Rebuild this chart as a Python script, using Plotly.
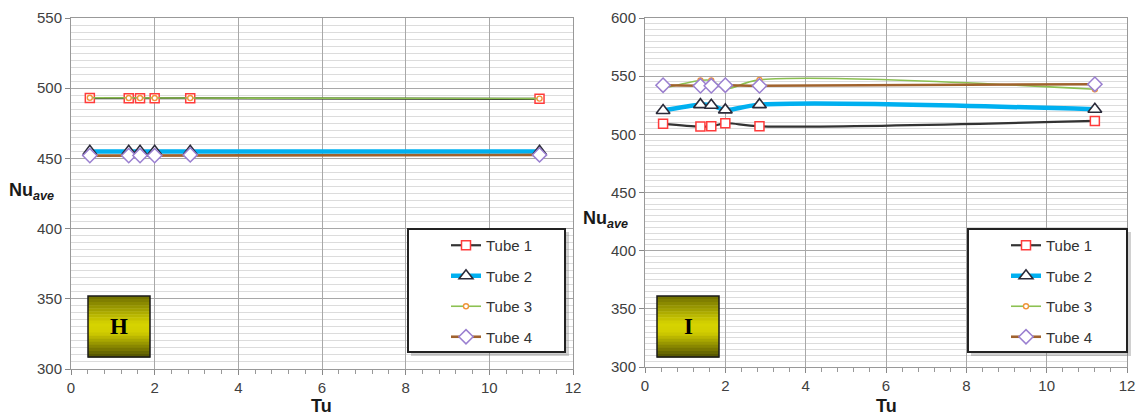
import plotly.graph_objects as go

W, H = 1138, 418

# ---------------- data ----------------
tu = [0.45, 1.38, 1.65, 2.0, 2.85, 11.2]
series_names = ["Tube 1", "Tube 2", "Tube 3", "Tube 4"]

h_tube1 = [493.0, 492.8, 492.8, 492.8, 492.9, 492.4]
h_tube2 = [455.0, 455.0, 455.0, 455.0, 455.0, 455.0]
h_tube3 = [493.2, 493.0, 493.0, 493.0, 493.0, 492.6]
h_tube4 = [452.0, 452.0, 452.0, 452.0, 452.5, 452.5]

i_tube1 = [509.0, 506.7, 506.9, 509.5, 506.9, 511.5]
i_tube2 = [520.5, 525.5, 525.0, 521.0, 525.5, 521.5]
i_tube3 = [539.4, 546.3, 546.3, 539.4, 546.8, 538.8]
i_tube4 = [542.2, 541.7, 541.7, 542.2, 541.7, 543.1]

x_ticks = [0, 2, 4, 6, 8, 10, 12]
h_yticks = [300, 350, 400, 450, 500, 550]
i_yticks = [300, 350, 400, 450, 500, 550, 600]
panel_labels = ["H", "I"]

# ---------------- styles ----------------
styles = [
    dict(line=dict(color="#333333", width=2.2),
         marker=dict(symbol="square", size=9, color="white",
                     line=dict(width=1.5, color="#ff3b3b"))),
    dict(line=dict(color="#00b0f0", width=4.5),
         marker=dict(symbol="triangle-up", size=12, color="white",
                     line=dict(width=1.6, color="#2b2b3a"))),
    dict(line=dict(color="#8cc152", width=1.6),
         marker=dict(symbol="circle", size=5, color="white",
                     line=dict(width=1.4, color="#f0953a"))),
    dict(line=dict(color="#a0622d", width=2.6),
         marker=dict(symbol="diamond", size=11, color="white",
                     line=dict(width=1.5, color="#9a7fd0"))),
]

fig = go.Figure()

def px_x(p):
    return p / W

def px_y(p):
    return 1 - p / H

panels = [
    dict(data=[h_tube1, h_tube2, h_tube3, h_tube4], xa="x", ya="y", legend="legend",
         shape="linear"),
    dict(data=[i_tube1, i_tube2, i_tube3, i_tube4], xa="x2", ya="y2", legend="legend2",
         shape="spline"),
]

for p in panels:
    for k, vals in enumerate(p["data"]):
        st = styles[k]
        fig.add_trace(go.Scatter(
            x=tu, y=vals, mode="lines+markers", name=series_names[k],
            line=dict(color=st["line"]["color"], width=st["line"]["width"], shape=p["shape"]),
            marker=st["marker"],
            xaxis=p["xa"], yaxis=p["ya"], legend=p["legend"],
            legendgroup=p["legend"] + str(k),
        ))

tick_font = dict(family="Liberation Sans, Arial", size=15, color="#404040")

def xaxis_cfg(dom):
    return dict(domain=dom, range=[0, 12], tickvals=x_ticks, ticks="outside", ticklen=5,
                tickcolor="#888888", showline=True, mirror=True, linecolor="#999999",
                linewidth=1, showgrid=True, gridcolor="#a8a8a8", gridwidth=1,
                zeroline=False, tickfont=tick_font, automargin=False,
                minor=dict(dtick=0.4, ticks="outside", ticklen=4, tickcolor="#999999",
                           showgrid=False))

def yaxis_cfg(dom, rng, tv, anchor):
    return dict(domain=dom, range=rng, tickvals=tv, ticks="outside", ticklen=5,
                tickcolor="#888888", showline=True, mirror=True, linecolor="#999999",
                linewidth=1, showgrid=True, gridcolor="#a8a8a8", gridwidth=1,
                zeroline=False, tickfont=tick_font, anchor=anchor, automargin=False,
                minor=dict(dtick=5, showgrid=True, gridcolor="#dcdcdc", gridwidth=1,
                           ticks=""))

fig.update_layout(
    width=W, height=H, margin=dict(l=0, r=0, t=0, b=0, autoexpand=False),
    paper_bgcolor="white", plot_bgcolor="white",
    xaxis=dict(xaxis_cfg([px_x(71), px_x(573)]), anchor="y"),
    yaxis=yaxis_cfg([px_y(369), px_y(18)], [300, 550], h_yticks, "x"),
    xaxis2=dict(xaxis_cfg([px_x(645), px_x(1127)]), anchor="y2"),
    yaxis2=yaxis_cfg([px_y(367), px_y(18)], [300, 600], i_yticks, "x2"),
    showlegend=True,
)

legend_font = dict(family="Liberation Sans, Arial", size=15, color="#333333")
for name, x0 in [("legend", 408), ("legend2", 968)]:
    fig.update_layout({name: dict(
        x=px_x(x0 + 38), y=px_y(229), xanchor="left", yanchor="top",
        bgcolor="rgba(0,0,0,0)", borderwidth=0, font=legend_font,
        tracegroupgap=8, itemwidth=30)})

shapes = []
annotations = []

# legend boxes with shadow
for x0, x1 in [(408, 565), (968, 1127)]:
    shapes.append(dict(type="rect", xref="paper", yref="paper",
                       x0=px_x(x0 + 3), x1=px_x(x1 + 4), y0=px_y(356), y1=px_y(232),
                       line=dict(width=0), fillcolor="rgba(120,120,120,0.35)", layer="above"))
    shapes.append(dict(type="rect", xref="paper", yref="paper",
                       x0=px_x(x0), x1=px_x(x1), y0=px_y(352), y1=px_y(229),
                       line=dict(color="#222222", width=2), fillcolor="white", layer="above"))

# yellow gradient label boxes
def grad_color(t):
    # t: 0 top -> 1 bottom
    stops = [(0.0, (110, 110, 0)), (0.45, (215, 212, 0)), (0.6, (210, 206, 0)),
             (1.0, (80, 80, 0))]
    for (t0, c0), (t1, c1) in zip(stops[:-1], stops[1:]):
        if t0 <= t <= t1:
            f = (t - t0) / (t1 - t0)
            c = [round(a + (b - a) * f) for a, b in zip(c0, c1)]
            return "rgb(%d,%d,%d)" % tuple(c)
    return "rgb(80,80,0)"

nb = 20
for (bx0, bx1), lab in zip([(88, 150), (657, 719)], panel_labels):
    by0, by1 = 296, 357
    for j in range(nb):
        ya = by0 + (by1 - by0) * j / nb
        yb = by0 + (by1 - by0) * (j + 1) / nb
        shapes.append(dict(type="rect", xref="paper", yref="paper",
                           x0=px_x(bx0), x1=px_x(bx1), y0=px_y(yb + 0.5), y1=px_y(ya),
                           line=dict(width=0), fillcolor=grad_color((j + 0.5) / nb),
                           layer="above"))
    shapes.append(dict(type="rect", xref="paper", yref="paper",
                       x0=px_x(bx0), x1=px_x(bx1), y0=px_y(by1), y1=px_y(by0),
                       line=dict(color="#1a1a1a", width=1.5), fillcolor="rgba(0,0,0,0)",
                       layer="above"))
    annotations.append(dict(xref="paper", yref="paper", x=px_x((bx0 + bx1) / 2),
                            y=px_y((by0 + by1) / 2), text="<b>%s</b>" % lab, showarrow=False,
                            font=dict(family="Liberation Serif, DejaVu Serif", size=23,
                                      color="black"),
                            xanchor="center", yanchor="middle"))

# axis titles
title_font = dict(family="Liberation Sans, Arial", size=18, color="#1a1a1a")
for cx in [321, 886]:
    annotations.append(dict(xref="paper", yref="paper", x=px_x(cx), y=px_y(406),
                            text="<b>Tu</b>", showarrow=False, font=title_font,
                            xanchor="center", yanchor="middle"))
for cx, cy in [(31, 192), (605, 219)]:
    annotations.append(dict(xref="paper", yref="paper", x=px_x(cx), y=px_y(cy),
                            text="<b>Nu<sub><i>ave</i></sub></b>", showarrow=False,
                            font=title_font, xanchor="center", yanchor="middle"))

fig.update_layout(shapes=shapes, annotations=annotations)

fig.write_html("out.html", config={"displayModeBar": False},
               post_script="document.body.style.margin='0px';")
